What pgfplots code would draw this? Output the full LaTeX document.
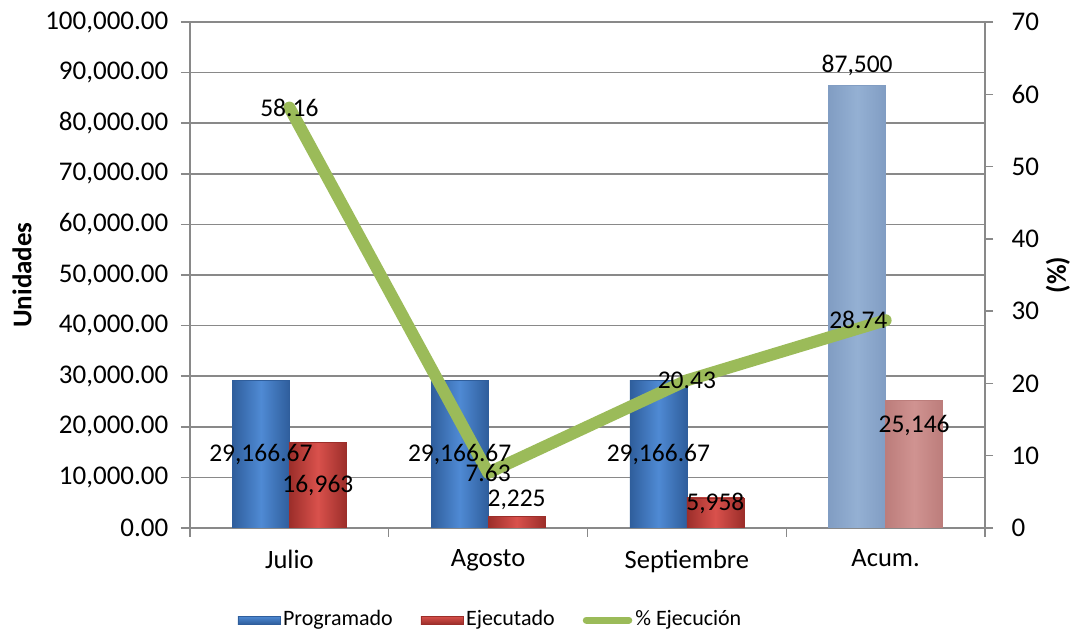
\documentclass[border=0pt]{standalone}
\usepackage{fontspec}
\setmainfont{Carlito}
\usepackage{pgfplots}
\usepackage{pgfplotstable}
\pgfplotsset{compat=1.18}
\definecolor{progD}{HTML}{2F5E9C}
\definecolor{progL}{HTML}{4F8AD4}
\definecolor{ejeD}{HTML}{9C2E2A}
\definecolor{ejeL}{HTML}{D9514C}
\definecolor{acumB}{HTML}{94B0D3}
\definecolor{acumBD}{HTML}{819DC3}
\definecolor{acumR}{HTML}{D09391}
\definecolor{acumRD}{HTML}{BC7D7B}
\definecolor{lineG}{HTML}{9BBB59}
\definecolor{gridG}{HTML}{898989}

\pgfplotstableread{
x prog ejec
0 29166.67 16963
1 29166.67 2225
2 29166.67 5958
3 87500 25146
}\bars
\pgfplotstableread{
x pct
0 58.16
1 7.63
2 20.43
3 28.74
}\pct

\pgfplotsset{
  common/.style={
    at={(0,0)}, anchor=south west,
    scale only axis, width=795pt, height=506pt,
    xmin=-0.5, xmax=3.5,
    axis line style={-, draw=gridG, line width=1.5pt},
    tick style={draw=gridG, line width=1.5pt},
    tick align=outside,
    yticklabel={\pgfmathprintnumber{\tick}},
    y tick label style={font=\fontsize{27}{32}\selectfont, /pgf/number format/assume math mode=true},
    x tick label style={font=\fontsize{26.5}{31}\selectfont},
  },
  progbar/.style={ybar, bar width=0.2866, bar shift=-0.1433, forget plot,
    left color=progD, right color=progD, middle color=progL, draw=progD, line width=0.6pt},
  ejebar/.style={ybar, bar width=0.2866, bar shift=0.1433, forget plot,
    left color=ejeD, right color=ejeD, middle color=ejeL, draw=ejeD, line width=0.6pt},
}

\begin{document}
\fontsize{25.5}{30}\selectfont
\begin{tikzpicture}
\path[use as bounding box] (-190pt,-106pt) rectangle (886pt,528pt);
% axis 1: bars
\begin{axis}[common,
  ymin=0, ymax=100000,
  axis x line*=bottom, axis y line*=left,
  ytick={0,10000,...,100000},
  scaled y ticks=false,
  ymajorgrids, grid style={draw=gridG, line width=1.5pt},
  major tick length=9pt,
  y tick label style={/pgf/number format/fixed, /pgf/number format/fixed zerofill,
    /pgf/number format/precision=2, /pgf/number format/1000 sep={,}, xshift=-4pt},
  xtick={-0.5,0.5,1.5,2.5,3.5}, xticklabels={,,,,},
  extra x ticks={0,1,2,3},
  extra x tick labels={Julio,Agosto,Septiembre,Acum.},
  extra x tick style={major tick length=0pt, xticklabel style={yshift=-13pt}},
  ylabel={\textbf{Unidades}},
  every axis y label/.style={at={(axis description cs:-0.2113,0.5)}, anchor=center, rotate=90,
    font=\fontsize{27}{32}\selectfont},
]
\addplot[progbar] table[x=x,y=prog, skip coords between index={1}{4}]{\bars};
\addplot[progbar] table[x=x,y=prog, skip coords between index={0}{1}, skip coords between index={2}{4}]{\bars};
\addplot[progbar] table[x=x,y=prog, skip coords between index={0}{2}, skip coords between index={3}{4}]{\bars};
\addplot[ybar, bar width=0.2866, bar shift=-0.1433, forget plot,
    left color=acumBD, right color=acumBD, middle color=acumB, draw=acumBD, line width=0.6pt]
    table[x=x,y=prog, skip coords between index={0}{3}]{\bars};
\addplot[ejebar] table[x=x,y=ejec, skip coords between index={1}{4}]{\bars};
\addplot[ejebar] table[x=x,y=ejec, skip coords between index={0}{1}, skip coords between index={2}{4}]{\bars};
\addplot[ejebar] table[x=x,y=ejec, skip coords between index={0}{2}, skip coords between index={3}{4}]{\bars};
\addplot[ybar, bar width=0.2866, bar shift=0.1433, forget plot,
    left color=acumRD, right color=acumRD, middle color=acumR, draw=acumRD, line width=0.6pt]
    table[x=x,y=ejec, skip coords between index={0}{3}]{\bars};
\end{axis}
% axis 2: line and right axis
\begin{axis}[common,
  ymin=0, ymax=70,
  axis x line=none, axis y line*=right,
  ytick={0,10,...,70},
  major tick length=8pt,
  yticklabel style={xshift=10pt},
  ylabel={\textbf{(\%)}},
  every axis y label/.style={at={(axis description cs:1.0918,0.5)}, anchor=center, rotate=90,
    font=\fontsize{27}{32}\selectfont},
  legend style={at={(0.056,-0.182)}, anchor=west, draw=none, fill=none,
    legend columns=3, /tikz/every even column/.append style={column sep=25pt},
    font=\fontsize{22}{26}\selectfont,
    nodes={inner xsep=3pt}},
]
\addlegendimage{legend image code/.code={\path[top color=progL, bottom color=progD, draw=progD] (0pt,-4pt) rectangle (42pt,4pt);}}
\addlegendentry{Programado}
\addlegendimage{legend image code/.code={\path[top color=ejeL, bottom color=ejeD, draw=ejeD] (0pt,-4pt) rectangle (42pt,4pt);}}
\addlegendentry{Ejecutado}
\addplot[lineG, line width=12pt, line cap=round, line join=round,
  legend image code/.code={\draw[lineG, line width=7pt, line cap=round] (3.5pt,0pt) -- (46pt,0pt);}]
  table[x=x,y=pct]{\pct};
\addlegendentry{\% Ejecución}
\node at (axis cs:0,58.16) {58.16};
\node at (axis cs:1,7.63) {7.63};
\node at (axis cs:2,20.43) {20.43};
\node[anchor=east, inner sep=0pt] at (axis cs:3.01,28.74) {28.74};
\end{axis}
% axis 3: bar labels on top
\begin{axis}[common, ymin=0, ymax=100000, axis lines=none]
\node at (axis cs:-0.1433,14583) {29,166.67};
\node at (axis cs:0.1433,8300) {16,963};
\node at (axis cs:0.8567,14583) {29,166.67};
\node at (axis cs:1.1433,5530) {2,225};
\node at (axis cs:1.8567,14583) {29,166.67};
\node at (axis cs:2.1433,4940) {5,958};
\node at (axis cs:2.8567,91500) {87,500};
\node at (axis cs:3.1433,20350) {25,146};
\end{axis}
\end{tikzpicture}
\end{document}
